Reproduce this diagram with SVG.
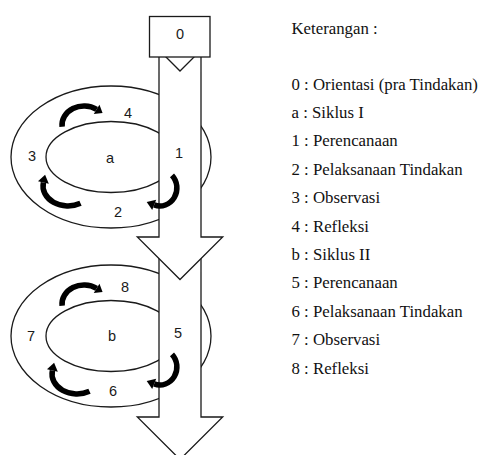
<svg xmlns="http://www.w3.org/2000/svg" width="481" height="455" viewBox="0 0 481 455">
<style>
.ln{fill:none;stroke:#1a1a1a;stroke-width:1.3}
.blk{fill:#fff;stroke:#1a1a1a;stroke-width:1.3;stroke-linejoin:miter}
.arc{fill:none;stroke:#000;stroke-width:5.5;stroke-linecap:butt}
.hd{fill:#000;stroke:none}
.lbl{font-family:"Liberation Sans",Arial,sans-serif;font-size:14.5px;fill:#1a1a1a;text-anchor:middle}
.leg{font-family:"Liberation Serif","Times New Roman",serif;font-size:16.8px;fill:#111}
</style>
<rect width="481" height="455" fill="#fff"/>
<g id="cycle-a">
<ellipse class="ln" cx="111" cy="157" rx="100" ry="71"/>
<ellipse class="ln" cx="111" cy="157" rx="65" ry="35.5"/>
</g>
<g id="cycle-b">
<ellipse class="ln" cx="111" cy="336" rx="100" ry="71"/>
<ellipse class="ln" cx="111" cy="336" rx="65" ry="35.5"/>
</g>
<g id="connectors">
<polygon class="blk" points="159,250 180,271 201,250 201,417 222.7,417 180,459.5 137.3,417 159,417"/>
<polygon class="blk" points="159,50 180,71 201,50 201,237 222.7,237 180,279.5 137.3,237 159,237"/>
<g id="cycle-arrows-a">
<path class="arc" d="M62.1,126.7 A22,19 0 0,1 96.6,109.4"/>
<polygon class="hd" points="93.75,114.1 99.45,104.7 102.6,113"/>
<path class="arc" d="M80.5,203.3 A25,20 0 0,1 43.4,182.5"/>
<polygon class="hd" points="38,181.3 48.8,183.7 45.1,174.7"/>
<path class="arc" d="M172,175.3 A17,18 0 0,1 154.2,204.9"/>
<polygon class="hd" points="156.2,199.8 152.2,210 146.7,202"/>
</g>
<g id="cycle-arrows-b">
<g transform="translate(0,179)">
<path class="arc" d="M62.1,126.7 A22,19 0 0,1 96.6,109.4"/>
<polygon class="hd" points="93.75,114.1 99.45,104.7 102.6,113"/>
</g>
<g transform="translate(9,188)">
<path class="arc" d="M80.5,203.3 A25,20 0 0,1 43.4,182.5"/>
<polygon class="hd" points="38,181.3 48.8,183.7 45.1,174.7"/>
</g>
<g transform="translate(0,179)">
<path class="arc" d="M172,175.3 A17,18 0 0,1 154.2,204.9"/>
<polygon class="hd" points="156.2,199.8 152.2,210 146.7,202"/>
</g>
</g>
</g>
<g id="node-0">
<rect class="blk" x="149.5" y="16.5" width="60.5" height="40.5"/>
<text class="lbl" x="180" y="39">0</text>
</g>
<g id="labels-a">
<text class="lbl" x="128" y="118">4</text>
<text class="lbl" x="32" y="161">3</text>
<text class="lbl" x="110" y="163">a</text>
<text class="lbl" x="179" y="158">1</text>
<text class="lbl" x="118" y="217">2</text>
</g>
<g id="labels-b">
<text class="lbl" x="125" y="292">8</text>
<text class="lbl" x="31" y="341">7</text>
<text class="lbl" x="112" y="341">b</text>
<text class="lbl" x="178" y="338">5</text>
<text class="lbl" x="113" y="396">6</text>
</g>
<g id="legend" class="leg">
<text x="291.5" y="34">Keterangan :</text>
<text x="291.5" y="89.5">0 : Orientasi (pra Tindakan)</text>
<text x="291.5" y="117.9">a : Siklus I</text>
<text x="291.5" y="146.3">1 : Perencanaan</text>
<text x="291.5" y="174.7">2 : Pelaksanaan Tindakan</text>
<text x="291.5" y="203.1">3 : Observasi</text>
<text x="291.5" y="231.5">4 : Refleksi</text>
<text x="291.5" y="259.9">b : Siklus II</text>
<text x="291.5" y="288.3">5 : Perencanaan</text>
<text x="291.5" y="316.7">6 : Pelaksanaan Tindakan</text>
<text x="291.5" y="345.1">7 : Observasi</text>
<text x="291.5" y="373.5">8 : Refleksi</text>
</g>
</svg>
